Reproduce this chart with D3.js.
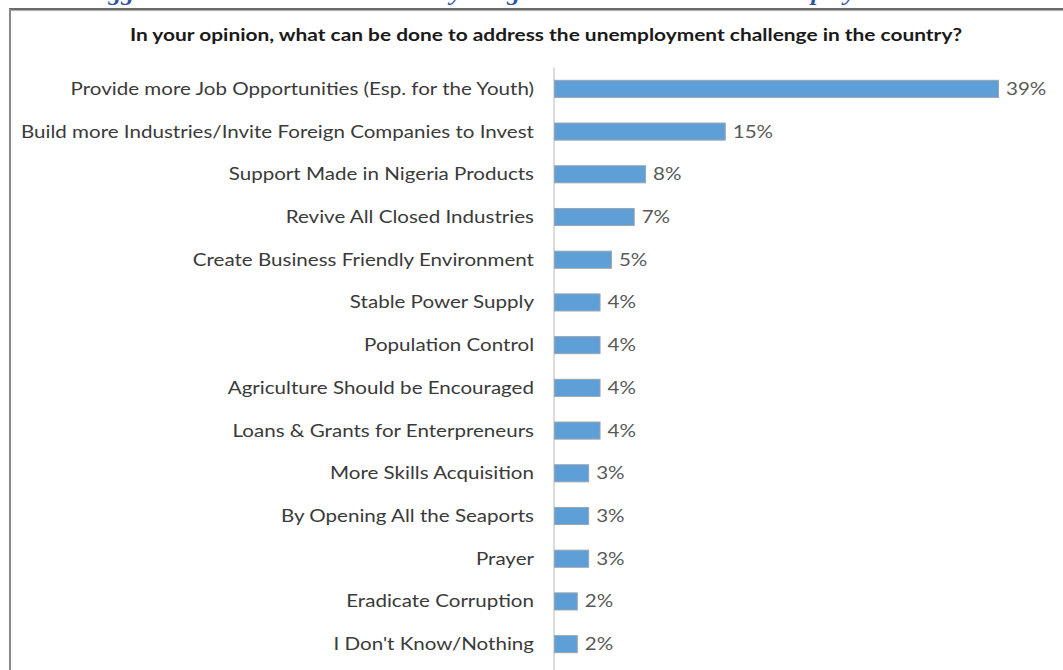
<!DOCTYPE html>
<html>
<head>
<meta charset="utf-8">
<script src="https://cdn.jsdelivr.net/npm/d3@7"></script>
<style>
  html, body { margin: 0; padding: 0; background: #ffffff; }
  svg { display: block; }
</style>
</head>
<body>
<div id="chart"></div>
<script>
// Survey answers, top to bottom
const categories = [
  "Provide more Job Opportunities (Esp. for the Youth)",
  "Build more Industries/Invite Foreign Companies to Invest",
  "Support Made in Nigeria Products",
  "Revive All Closed Industries",
  "Create Business Friendly Environment",
  "Stable Power Supply",
  "Population Control",
  "Agriculture Should be Encouraged",
  "Loans & Grants for Enterpreneurs",
  "More Skills Acquisition",
  "By Opening All the Seaports",
  "Prayer",
  "Eradicate Corruption",
  "I Don't Know/Nothing"
];
// Share of respondents, in percent
const values = [39, 15, 8, 7, 5, 4, 4, 4, 4, 3, 3, 3, 2, 2];

const chartTitle = "In your opinion, what can be done to address the unemployment challenge in the country?";
const pageHeading = "Suggestions on what can be done by the government to address unemployment";

const W = 1063, H = 670;
const svg = d3.select("#chart").append("svg")
  .attr("width", W).attr("height", H);

const rows = categories.map((c, i) => ({ name: c, value: values[i] }));

// Page heading of the report, running off the top of the page
svg.append("text")
  .attr("x", 80).attr("y", -0.5)
  .attr("font-family", "'Liberation Serif', 'DejaVu Serif', serif")
  .attr("font-style", "italic").attr("font-weight", "bold")
  .attr("font-size", 22).attr("fill", "#2f56a6")
  .attr("textLength", 828).attr("lengthAdjust", "spacingAndGlyphs")
  .text(pageHeading);

// Chart frame: dark top rule and grey left edge
svg.append("line").attr("x1", 9).attr("x2", W).attr("y1", 9).attr("y2", 9)
  .attr("stroke", "#3a3a3a").attr("stroke-width", 1.6);
svg.append("line").attr("x1", 9).attr("x2", W).attr("y1", 10.6).attr("y2", 10.6)
  .attr("stroke", "#a8a8a8").attr("stroke-width", 1);
svg.append("line").attr("x1", 10).attr("x2", 10).attr("y1", 9).attr("y2", H)
  .attr("stroke", "#8a8a8a").attr("stroke-width", 2);

const x0 = 554;
const x = d3.scaleLinear().domain([0, 39]).range([x0, 998]);
const y = d3.scaleBand().domain(categories).range([67.5, 665.5])
  .paddingInner(0.6).paddingOuter(0.3);

const font = "Lato, 'Open Sans', sans-serif";

// Chart title
svg.append("text")
  .attr("x", 546).attr("y", 41)
  .attr("text-anchor", "middle")
  .attr("font-family", font).attr("font-weight", "bold")
  .attr("font-size", 16.5).attr("fill", "#1a1a1a")
  .attr("textLength", 832).attr("lengthAdjust", "spacingAndGlyphs")
  .text(chartTitle);

// Category axis
const gy = svg.append("g").attr("transform", `translate(${x0},0)`)
  .call(d3.axisLeft(y).tickSize(0).tickPadding(20));
gy.select(".domain").remove();
gy.selectAll("text")
  .attr("font-family", font).attr("font-size", 16.5)
  .attr("fill", "#3a3a3a").attr("dy", "0.36em");

// Horizontal stretch so label widths follow the report's font
let longest = 0;
gy.selectAll("text").each(function() { longest = Math.max(longest, this.getComputedTextLength()); });
const k = 513 / longest;
gy.selectAll("text").each(function() {
  d3.select(this).attr("textLength", this.getComputedTextLength() * k)
    .attr("lengthAdjust", "spacingAndGlyphs");
});

svg.append("line")
  .attr("x1", x0).attr("x2", x0)
  .attr("y1", y.range()[0]).attr("y2", H)
  .attr("stroke", "#d0d0d0").attr("stroke-width", 1.5);

// Bars
svg.append("g").selectAll("rect").data(rows).join("rect")
  .attr("x", x(0) + 0.5)
  .attr("y", d => y(d.name))
  .attr("width", d => x(d.value) - x(0))
  .attr("height", y.bandwidth())
  .attr("fill", "#5e9fd8")
  .attr("stroke", "#9aa5b0").attr("stroke-width", 1);

// Value labels
const vl = svg.append("g").selectAll("text").data(rows).join("text")
  .attr("x", d => x(d.value) + 8)
  .attr("y", d => y(d.name) + y.bandwidth() / 2)
  .attr("dy", "0.36em")
  .attr("font-family", font).attr("font-size", 16.5)
  .attr("fill", "#595959")
  .text(d => d.value + "%");
vl.each(function() {
  d3.select(this).attr("textLength", this.getComputedTextLength() * k)
    .attr("lengthAdjust", "spacingAndGlyphs");
});
</script>
</body>
</html>
